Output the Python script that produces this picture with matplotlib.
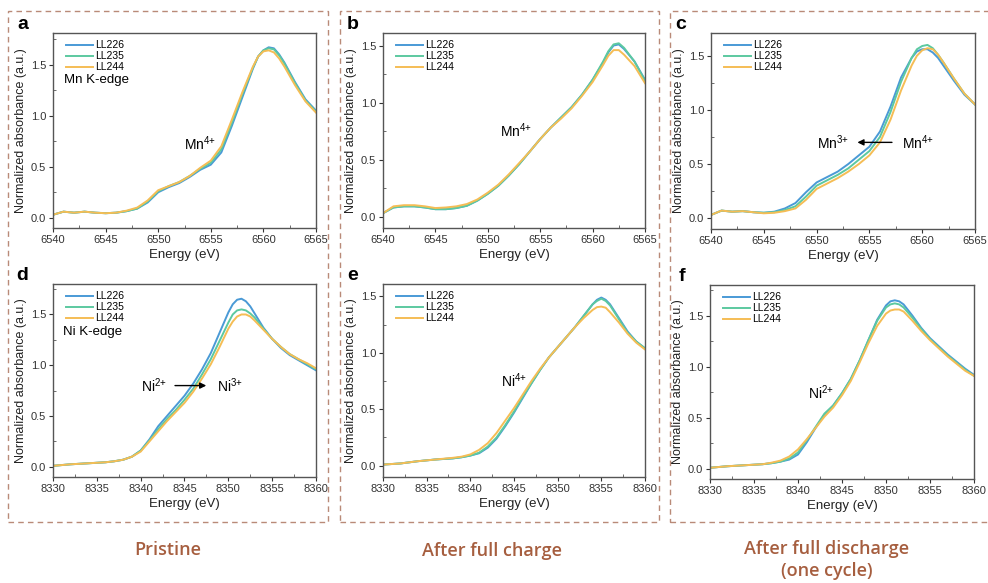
import matplotlib
matplotlib.use('Agg')
import matplotlib.pyplot as plt
from matplotlib.patches import Rectangle
from matplotlib.ticker import MultipleLocator

plt.rcParams['font.family'] = ['Liberation Sans', 'DejaVu Sans']
plt.rcParams['mathtext.fontset'] = 'custom'
plt.rcParams['mathtext.rm'] = 'Liberation Sans'
plt.rcParams['mathtext.it'] = 'Liberation Sans'
plt.rcParams['mathtext.default'] = 'regular'

names = ['LL226', 'LL235', 'LL244']
colors = ['#4a9ad6', '#5cc9a0', '#f5bd55']

# Mn K-edge, pristine
e_a = [6540, 6541, 6542, 6543, 6544, 6545, 6546, 6547, 6548, 6549, 6550, 6551, 6552, 6553, 6554,
       6555, 6556, 6557, 6558, 6559, 6559.5, 6560, 6560.5, 6561, 6561.5, 6562, 6563, 6564, 6565]
a_226 = [0.03, 0.06, 0.05, 0.06, 0.05, 0.045, 0.05, 0.065, 0.09, 0.15, 0.25, 0.30, 0.34, 0.40, 0.47,
         0.52, 0.64, 0.90, 1.18, 1.46, 1.58, 1.64, 1.67, 1.66, 1.60, 1.52, 1.33, 1.16, 1.05]
a_235 = [0.03, 0.06, 0.05, 0.06, 0.05, 0.045, 0.05, 0.065, 0.09, 0.16, 0.26, 0.31, 0.35, 0.41, 0.48,
         0.54, 0.67, 0.93, 1.21, 1.47, 1.58, 1.64, 1.66, 1.65, 1.59, 1.51, 1.32, 1.15, 1.04]
a_244 = [0.03, 0.06, 0.05, 0.06, 0.05, 0.045, 0.05, 0.07, 0.10, 0.17, 0.27, 0.31, 0.35, 0.41, 0.49,
         0.56, 0.70, 0.96, 1.23, 1.48, 1.58, 1.63, 1.64, 1.62, 1.56, 1.48, 1.30, 1.14, 1.03]

# Mn K-edge, after full charge
e_b = [6540, 6541, 6542, 6543, 6544, 6545, 6546, 6547, 6548, 6549, 6550, 6551, 6552, 6553, 6554,
       6555, 6556, 6557, 6558, 6559, 6560, 6561, 6561.5, 6562, 6562.5, 6563, 6564, 6565]
b_226 = [0.03, 0.08, 0.09, 0.09, 0.08, 0.065, 0.065, 0.075, 0.095, 0.14, 0.20, 0.27, 0.36, 0.46, 0.57,
         0.68, 0.78, 0.87, 0.96, 1.07, 1.20, 1.35, 1.44, 1.50, 1.51, 1.47, 1.36, 1.20]
b_235 = [0.03, 0.08, 0.09, 0.09, 0.08, 0.065, 0.065, 0.075, 0.095, 0.14, 0.20, 0.27, 0.36, 0.46, 0.57,
         0.68, 0.78, 0.87, 0.96, 1.07, 1.20, 1.36, 1.45, 1.51, 1.52, 1.48, 1.36, 1.19]
b_244 = [0.03, 0.09, 0.10, 0.10, 0.09, 0.075, 0.08, 0.09, 0.11, 0.15, 0.21, 0.28, 0.37, 0.47, 0.57,
         0.68, 0.78, 0.86, 0.95, 1.06, 1.18, 1.33, 1.41, 1.46, 1.46, 1.42, 1.32, 1.17]

# Mn K-edge, after full discharge
e_c = [6540, 6541, 6542, 6543, 6544, 6545, 6546, 6547, 6548, 6549, 6550, 6551, 6552, 6553, 6554,
       6555, 6556, 6557, 6558, 6559, 6559.5, 6560, 6560.5, 6561, 6561.5, 6562, 6563, 6564, 6565]
c_226 = [0.03, 0.07, 0.06, 0.065, 0.055, 0.05, 0.06, 0.09, 0.14, 0.24, 0.33, 0.38, 0.43, 0.50, 0.58,
         0.66, 0.80, 1.03, 1.30, 1.48, 1.54, 1.56, 1.56, 1.53, 1.48, 1.41, 1.27, 1.14, 1.05]
c_235 = [0.03, 0.07, 0.06, 0.065, 0.055, 0.05, 0.055, 0.075, 0.11, 0.20, 0.30, 0.35, 0.40, 0.46, 0.54,
         0.62, 0.75, 0.98, 1.26, 1.48, 1.56, 1.59, 1.60, 1.57, 1.51, 1.44, 1.29, 1.15, 1.05]
c_244 = [0.03, 0.07, 0.06, 0.065, 0.055, 0.045, 0.05, 0.065, 0.09, 0.17, 0.27, 0.32, 0.37, 0.43, 0.50,
         0.58, 0.70, 0.91, 1.18, 1.41, 1.50, 1.55, 1.57, 1.56, 1.51, 1.44, 1.29, 1.15, 1.05]

# Ni K-edge, pristine
e_d = [8330, 8332, 8334, 8336, 8337, 8338, 8339, 8340, 8341, 8342, 8343, 8344, 8345, 8346, 8347, 8348,
       8349, 8350, 8350.5, 8351, 8351.5, 8352, 8352.5, 8353, 8354, 8355, 8356, 8357, 8358, 8359, 8360]
d_226 = [0.01, 0.025, 0.035, 0.045, 0.055, 0.07, 0.10, 0.16, 0.27, 0.40, 0.50, 0.60, 0.70, 0.82, 0.96, 1.12,
         1.32, 1.52, 1.60, 1.645, 1.655, 1.63, 1.58, 1.51, 1.37, 1.26, 1.17, 1.10, 1.05, 1.00, 0.95]
d_235 = [0.01, 0.025, 0.035, 0.045, 0.055, 0.07, 0.10, 0.16, 0.26, 0.37, 0.47, 0.56, 0.66, 0.77, 0.91, 1.06,
         1.24, 1.42, 1.50, 1.54, 1.55, 1.54, 1.51, 1.47, 1.36, 1.26, 1.18, 1.11, 1.06, 1.01, 0.96]
d_244 = [0.01, 0.025, 0.035, 0.045, 0.055, 0.07, 0.10, 0.15, 0.25, 0.35, 0.45, 0.54, 0.63, 0.74, 0.87, 1.01,
         1.18, 1.36, 1.43, 1.48, 1.50, 1.50, 1.48, 1.44, 1.35, 1.26, 1.18, 1.11, 1.06, 1.02, 0.97]

# Ni K-edge, after full charge
e_e = [8330, 8332, 8334, 8336, 8338, 8339, 8340, 8341, 8342, 8343, 8344, 8345, 8346, 8347, 8348,
       8349, 8350, 8351, 8352, 8353, 8354, 8354.5, 8355, 8355.5, 8356, 8357, 8358, 8359, 8360]
e_226 = [0.01, 0.02, 0.04, 0.055, 0.065, 0.075, 0.09, 0.11, 0.16, 0.24, 0.35, 0.47, 0.60, 0.73, 0.85,
         0.96, 1.05, 1.14, 1.23, 1.33, 1.43, 1.47, 1.49, 1.47, 1.43, 1.31, 1.19, 1.10, 1.04]
e_235 = [0.01, 0.02, 0.04, 0.055, 0.065, 0.075, 0.09, 0.115, 0.17, 0.25, 0.36, 0.48, 0.61, 0.73, 0.85,
         0.96, 1.05, 1.14, 1.23, 1.33, 1.43, 1.46, 1.48, 1.46, 1.42, 1.30, 1.18, 1.10, 1.04]
e_244 = [0.01, 0.02, 0.04, 0.055, 0.07, 0.08, 0.10, 0.14, 0.20, 0.29, 0.40, 0.51, 0.63, 0.75, 0.86,
         0.96, 1.05, 1.14, 1.23, 1.31, 1.38, 1.405, 1.41, 1.40, 1.36, 1.27, 1.17, 1.09, 1.03]

# Ni K-edge, after full discharge
e_f = [8330, 8332, 8334, 8336, 8337, 8338, 8339, 8340, 8341, 8342, 8343, 8344, 8345, 8346, 8347,
       8348, 8349, 8350, 8350.5, 8351, 8351.5, 8352, 8353, 8354, 8355, 8356, 8357, 8358, 8359, 8360]
f_226 = [0.01, 0.025, 0.035, 0.045, 0.055, 0.07, 0.09, 0.14, 0.26, 0.40, 0.53, 0.62, 0.74, 0.88, 1.06,
         1.26, 1.46, 1.60, 1.64, 1.65, 1.64, 1.61, 1.50, 1.38, 1.28, 1.20, 1.12, 1.05, 0.98, 0.92]
f_235 = [0.01, 0.025, 0.035, 0.045, 0.055, 0.07, 0.10, 0.16, 0.28, 0.41, 0.54, 0.62, 0.74, 0.88, 1.06,
         1.26, 1.45, 1.58, 1.61, 1.62, 1.61, 1.58, 1.48, 1.37, 1.27, 1.19, 1.11, 1.04, 0.97, 0.91]
f_244 = [0.01, 0.025, 0.035, 0.045, 0.06, 0.08, 0.12, 0.19, 0.29, 0.40, 0.51, 0.60, 0.72, 0.86, 1.04,
         1.23, 1.40, 1.52, 1.55, 1.56, 1.56, 1.54, 1.45, 1.35, 1.26, 1.18, 1.10, 1.03, 0.96, 0.91]

column_titles = ['Pristine', 'After full charge', 'After full discharge\n(one cycle)']

W, H = 988, 583
fig = plt.figure(figsize=(W / 100, H / 100), dpi=100)


def px_axes(left, top, right, bottom):
    return fig.add_axes([left / W, 1 - bottom / H, (right - left) / W, (bottom - top) / H])


def panel(ax, x, ys, xlim, ylim, xmajor, letter):
    for y, name, c in zip(ys, names, colors):
        ax.plot(x, y, color=c, lw=1.4, label=name)
    ax.set_xlim(*xlim)
    ax.set_ylim(*ylim)
    ax.xaxis.set_major_locator(MultipleLocator(xmajor))
    ax.xaxis.set_minor_locator(MultipleLocator(xmajor / 2))
    ax.yaxis.set_major_locator(MultipleLocator(0.5))
    ax.yaxis.set_minor_locator(MultipleLocator(0.25))
    ax.tick_params(which='major', direction='out', length=3, width=0.8, labelsize=8,
                   colors='#333333', pad=2)
    ax.tick_params(which='minor', direction='in', length=2, width=0.6, colors='#555555')
    for s in ax.spines.values():
        s.set_color('#555555')
        s.set_linewidth(1.0)
    ax.set_xlabel('Energy (eV)', fontsize=9.5, color='#222222', labelpad=3)
    ax.set_ylabel('Normalized absorbance (a.u.)', fontsize=9, color='#222222', labelpad=3)
    ax.legend(loc='upper left', fontsize=7.5, frameon=False, handlelength=2.6,
              handletextpad=0.2, labelspacing=0.1, borderaxespad=0.3,
              bbox_to_anchor=(0.02, 1.0))
    ax.text(-0.095, 1.0, letter, transform=ax.transAxes, fontsize=14, fontweight='bold',
            ha='right', va='bottom')


ax_a = px_axes(53, 33, 316, 228)
panel(ax_a, e_a, [a_226, a_235, a_244], (6540, 6565), (-0.1, 1.81), 5, 'a')
ax_a.text(6541.0, 1.32, 'Mn K-edge', fontsize=9.5)
ax_a.text(6552.5, 0.66, 'Mn$^{4{+}}$', fontsize=10)

ax_b = px_axes(383, 33, 645, 228)
panel(ax_b, e_b, [b_226, b_235, b_244], (6540, 6565), (-0.1, 1.61), 5, 'b')
ax_b.text(6551.2, 0.70, 'Mn$^{4{+}}$', fontsize=10)

ax_c = px_axes(711, 33, 975, 229)
panel(ax_c, e_c, [c_226, c_235, c_244], (6540, 6565), (-0.1, 1.71), 5, 'c')
ax_c.text(6550.0, 0.70, 'Mn$^{3{+}}$', fontsize=10, va='center')
ax_c.text(6558.1, 0.70, 'Mn$^{4{+}}$', fontsize=10, va='center')
ax_c.annotate('', xy=(6553.6, 0.70), xytext=(6557.4, 0.70),
              arrowprops=dict(arrowstyle='-|>', color='black', lw=1.0, mutation_scale=9))

ax_d = px_axes(53, 284, 316, 477)
panel(ax_d, e_d, [d_226, d_235, d_244], (8330, 8360), (-0.1, 1.8), 5, 'd')
ax_d.text(8331.1, 1.30, 'Ni K-edge', fontsize=9.5)
ax_d.text(8340.0, 0.80, 'Ni$^{2{+}}$', fontsize=10, va='center')
ax_d.text(8348.7, 0.80, 'Ni$^{3{+}}$', fontsize=10, va='center')
ax_d.annotate('', xy=(8347.8, 0.80), xytext=(8343.6, 0.80),
              arrowprops=dict(arrowstyle='-|>', color='black', lw=1.0, mutation_scale=9))

ax_e = px_axes(383, 284, 645, 477)
panel(ax_e, e_e, [e_226, e_235, e_244], (8330, 8360), (-0.1, 1.61), 5, 'e')
ax_e.text(8343.5, 0.70, 'Ni$^{4{+}}$', fontsize=10)

ax_f = px_axes(710, 285, 974, 479)
panel(ax_f, e_f, [f_226, f_235, f_244], (8330, 8360), (-0.1, 1.8), 5, 'f')
ax_f.text(8341.1, 0.68, 'Ni$^{2{+}}$', fontsize=10)

# dashed column frames
box_color = '#b98a78'
for left, right in [(8, 328), (340, 659), (670, 995)]:
    fig.patches.append(Rectangle((left / W, 1 - 522 / H), (right - left) / W, (522 - 11) / H,
                                 transform=fig.transFigure, fill=False, ec=box_color,
                                 ls=(0, (4, 3)), lw=1.0))

title_color = '#a65e3f'
for cx, cy, t in zip([168, 492, 827], [550, 551, 560], column_titles):
    fig.text(cx / W, 1 - cy / H, t, ha='center', va='center', fontsize=13,
             color=title_color, family=['Open Sans', 'DejaVu Sans'], fontweight='semibold',
             linespacing=1.3)

fig.savefig('out.png', dpi=100)
